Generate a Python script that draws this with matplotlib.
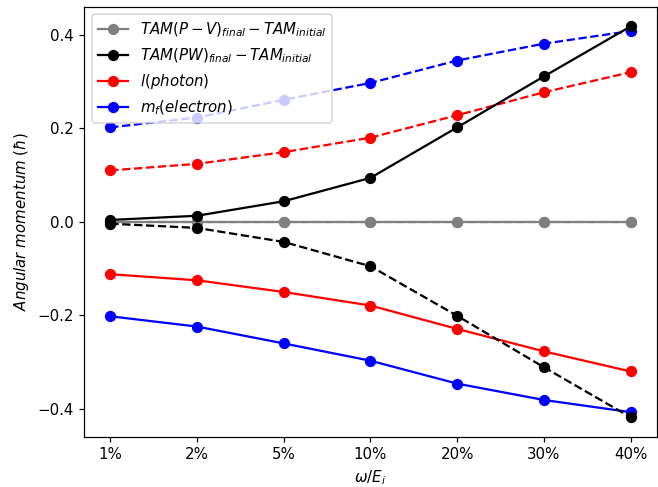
import numpy as np
import matplotlib
matplotlib.use('Agg')
import matplotlib.pyplot as plt

# omega / E_i
ratios = ['1%', '2%', '5%', '10%', '20%', '30%', '40%']

# values (upper branch, dashed; lower branch, solid)
tam_pv = [0.0, 0.0, 0.0, 0.0, 0.0, 0.0, 0.0]
tam_pw = [0.004, 0.013, 0.044, 0.094, 0.202, 0.311, 0.418]
tam_pw_neg = [-0.004, -0.013, -0.043, -0.095, -0.201, -0.311, -0.418]
l_photon = [0.110, 0.124, 0.149, 0.180, 0.228, 0.277, 0.320]
l_photon_neg = [-0.112, -0.125, -0.150, -0.179, -0.229, -0.277, -0.320]
mf_electron = [0.202, 0.223, 0.261, 0.297, 0.345, 0.381, 0.408]
mf_electron_neg = [-0.202, -0.224, -0.260, -0.297, -0.346, -0.381, -0.407]

x = np.arange(len(ratios))
ms = 6.5
dpi = 108

fig = plt.figure(figsize=(658 / dpi, 487 / dpi), dpi=dpi)
ax = fig.add_axes([0.128, 0.103, 0.870, 0.883])

h_pv, = ax.plot(x, tam_pv, 'o-', color='grey', ms=ms, zorder=2,
                label=r'$TAM(P-V)_{final}-TAM_{initial}$')
ax.plot(x, tam_pv, 'o--', color='grey', ms=ms, zorder=2)

h_l, = ax.plot(x, l_photon_neg, 'o-', color='red', ms=ms, zorder=2,
               label=r'$l(photon)$')
ax.plot(x, l_photon, 'o--', color='red', ms=ms, zorder=2)

h_m, = ax.plot(x, mf_electron_neg, 'o-', color='blue', ms=ms, zorder=2,
               label=r'$m_f(electron)$')
ax.plot(x, mf_electron, 'o--', color='blue', ms=ms, zorder=2)

h_pw, = ax.plot(x, tam_pw, 'o-', color='black', ms=ms, zorder=3,
                label=r'$TAM(PW)_{final}-TAM_{initial}$')
ax.plot(x, tam_pw_neg, 'o--', color='black', ms=ms, zorder=3)

ax.set_xticks(x)
ax.set_xticklabels(ratios)
ax.set_yticks([-0.4, -0.2, 0.0, 0.2, 0.4])
ax.set_xlabel(r'$\omega/E_i$')
ax.set_ylabel(r'$Angular\ momentum\ (\hbar)$')
ax.legend(handles=[h_pv, h_pw, h_l, h_m], loc='upper left')

fig.savefig('out.png', dpi=dpi)
